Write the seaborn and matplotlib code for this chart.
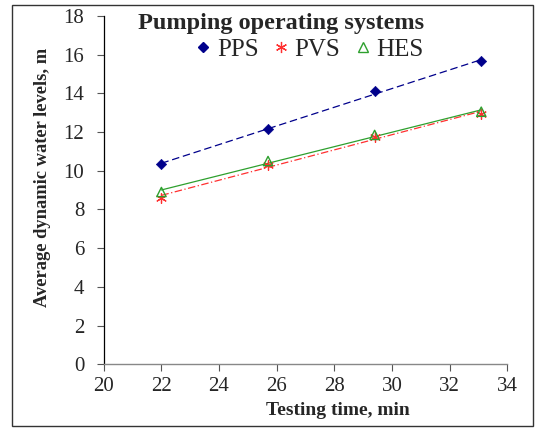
import numpy as np
import pandas as pd
import matplotlib
matplotlib.use('Agg')
import matplotlib.pyplot as plt
import seaborn as sns
from matplotlib.lines import Line2D
from matplotlib.patches import Rectangle

# Data
time_min = [22.0, 25.7, 29.4, 33.1]
pps = [10.35, 12.15, 14.1, 15.65]
pvs = [8.6, 10.3, 11.75, 12.95]
hes = [8.9, 10.5, 11.85, 13.05]

series = ['PPS', 'PVS', 'HES']
colors = {'PPS': '#00008B', 'PVS': '#FF3030', 'HES': '#2EA02E'}
line_styles = {'PPS': (0, (6, 3)), 'PVS': (0, (6, 2, 1, 2)), 'HES': '-'}

df = pd.DataFrame({
    'time': time_min * 3,
    'level': pps + pvs + hes,
    'system': [s for s in series for _ in time_min],
})

sns.set_theme(style='white')
plt.rcParams['font.family'] = ['Liberation Serif', 'DejaVu Serif']

fig = plt.figure(figsize=(5.35, 4.3), dpi=100)
ax = fig.add_axes([0.194, 0.153, 0.754, 0.81])

for s in series:
    sub = df[df['system'] == s]
    # linear trendline through each series
    sns.regplot(data=sub, x='time', y='level', ax=ax, ci=None, scatter=False,
                line_kws={'color': colors[s], 'lw': 0.9, 'ls': line_styles[s]})
    if s == 'HES':
        sns.scatterplot(data=sub, x='time', y='level', ax=ax, marker='^', s=45,
                        facecolor='none', edgecolor=colors[s], linewidth=1.0, zorder=3)
    elif s == 'PVS':
        sns.scatterplot(data=sub, x='time', y='level', ax=ax, marker=(6, 2, 0), s=50,
                        color=colors[s], linewidth=0.9, zorder=3)
    else:
        sns.scatterplot(data=sub, x='time', y='level', ax=ax, marker='D', s=28,
                        color=colors[s], edgecolor=colors[s], zorder=3)

ax.set_xlim(20, 34)
ax.set_ylim(0, 18)
ax.set_xticks(range(20, 35, 2))
ax.set_yticks(range(0, 19, 2))
ax.tick_params(axis='both', labelsize=15, length=5, width=0.8, color='#555555',
               direction='out', bottom=True, left=True)
ax.tick_params(axis='x', pad=4)
ax.tick_params(axis='y', pad=9)
for side in ['top', 'right']:
    ax.spines[side].set_visible(False)
ax.spines['left'].set_color('black')
ax.spines['left'].set_linewidth(0.9)
ax.spines['bottom'].set_color('#888888')
ax.spines['bottom'].set_linewidth(1.0)

ax.set_xlabel('Testing time, min', fontsize=14, fontweight='bold')
ax.set_ylabel('Average dynamic water levels, m', fontsize=13.3, fontweight='bold')
ax.xaxis.set_label_coords(0.58, -0.108)
ax.yaxis.set_label_coords(-0.13, 0.536)

handles = [
    Line2D([], [], ls='none', marker='D', ms=5, color=colors['PPS']),
    Line2D([], [], ls='none', marker=(6, 2, 0), ms=8, color=colors['PVS'], mew=0.9),
    Line2D([], [], ls='none', marker='^', ms=7, mfc='none', mec=colors['HES'], mew=1.0),
]
leg = ax.legend(handles, series, title='Pumping operating systems', ncol=3,
                loc='upper right', bbox_to_anchor=(0.837, 1.06), frameon=False,
                fontsize=18, handletextpad=0.15, columnspacing=0.5, handlelength=0.8,
                labelspacing=0.2, borderpad=0.2, alignment='right')
leg.get_title().set_fontweight('bold')
leg.get_title().set_fontsize(17.5)

fig.patches.append(Rectangle((0.022, 0.01), 0.974, 0.978, transform=fig.transFigure,
                             fill=False, edgecolor='#333333', lw=1.0))

fig.savefig('out.png', dpi=100)
